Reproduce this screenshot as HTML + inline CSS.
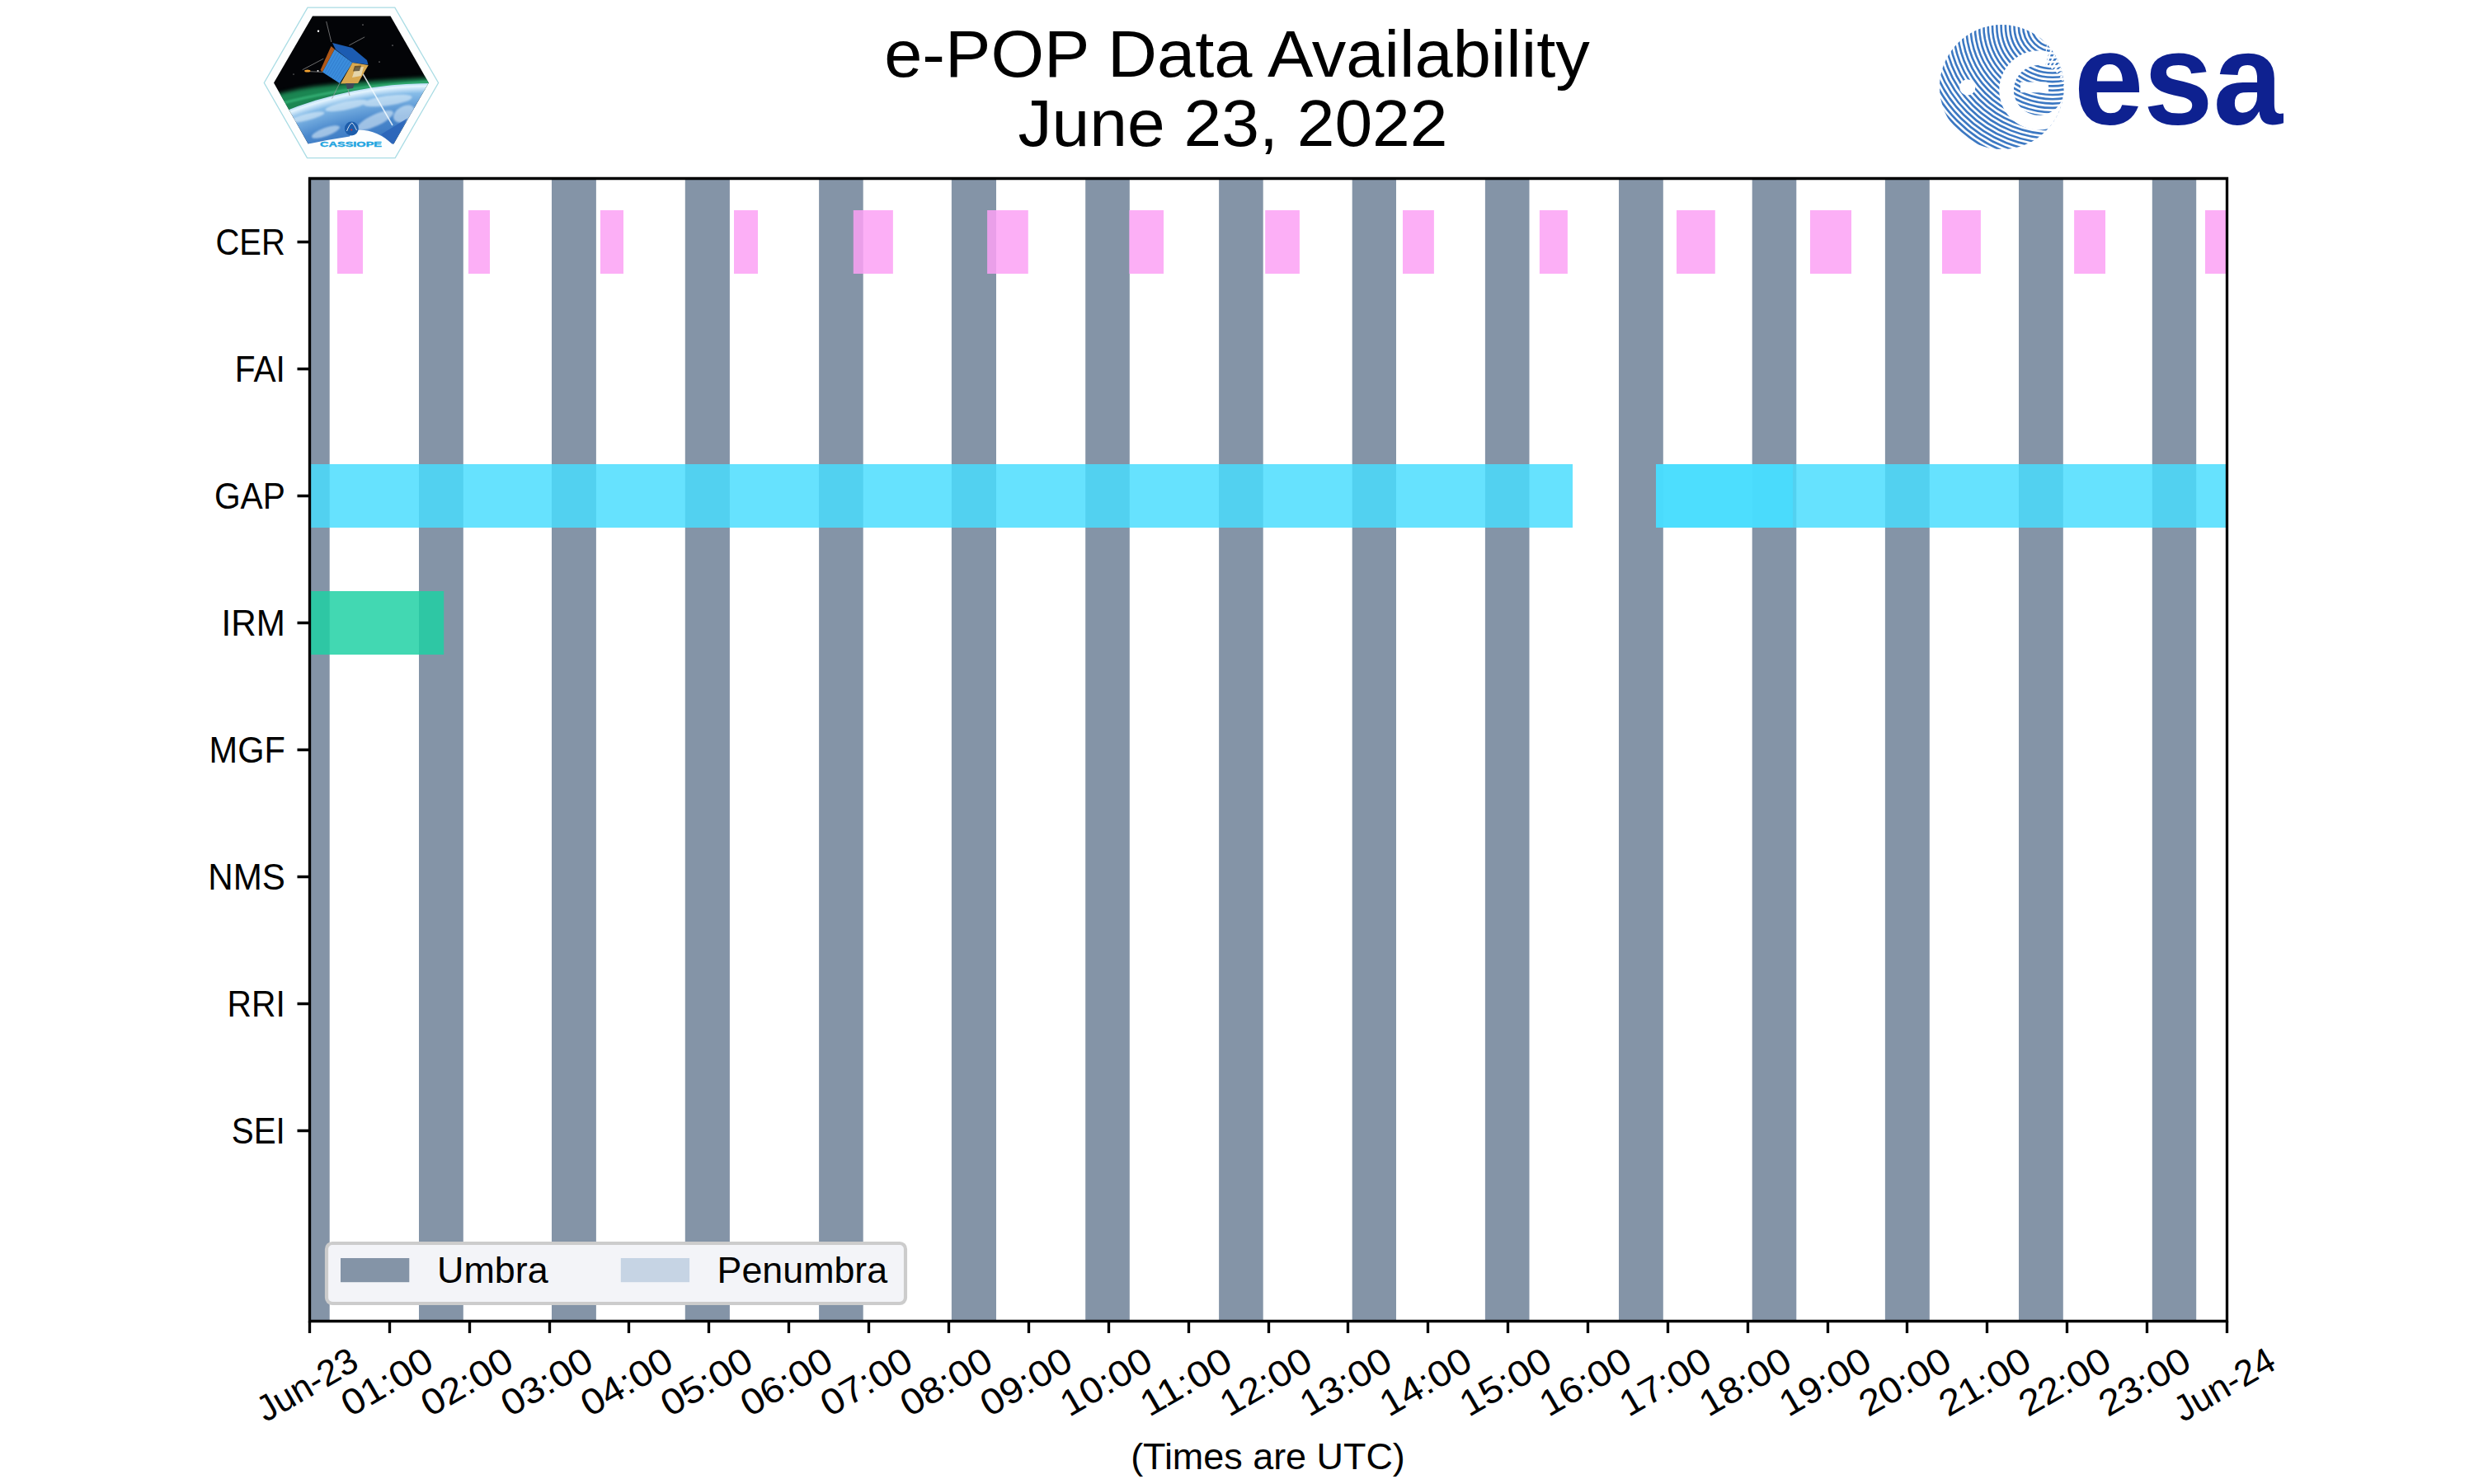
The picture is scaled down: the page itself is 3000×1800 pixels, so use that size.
<!DOCTYPE html>
<html><head><meta charset="utf-8"><style>
html,body{margin:0;padding:0;background:#fff;width:3000px;height:1800px;overflow:hidden}
svg{display:block}
text{font-family:"Liberation Sans", sans-serif}
</style></head><body>
<svg width="3000" height="1800" viewBox="0 0 3000 1800">
<rect width="3000" height="1800" fill="#fff"/>
<rect x="375.0" y="216.5" width="24.7" height="1386" fill="#8494a7"/>
<rect x="508.0" y="216.5" width="53.8" height="1386" fill="#8494a7"/>
<rect x="669.0" y="216.5" width="53.9" height="1386" fill="#8494a7"/>
<rect x="830.8" y="216.5" width="54.1" height="1386" fill="#8494a7"/>
<rect x="993.1" y="216.5" width="53.6" height="1386" fill="#8494a7"/>
<rect x="1153.9" y="216.5" width="54.1" height="1386" fill="#8494a7"/>
<rect x="1316.2" y="216.5" width="53.6" height="1386" fill="#8494a7"/>
<rect x="1478.1" y="216.5" width="53.6" height="1386" fill="#8494a7"/>
<rect x="1639.7" y="216.5" width="53.3" height="1386" fill="#8494a7"/>
<rect x="1800.9" y="216.5" width="53.6" height="1386" fill="#8494a7"/>
<rect x="1963.0" y="216.5" width="53.8" height="1386" fill="#8494a7"/>
<rect x="2124.7" y="216.5" width="53.6" height="1386" fill="#8494a7"/>
<rect x="2285.9" y="216.5" width="53.9" height="1386" fill="#8494a7"/>
<rect x="2448.0" y="216.5" width="53.8" height="1386" fill="#8494a7"/>
<rect x="2609.8" y="216.5" width="53.4" height="1386" fill="#8494a7"/>
<rect x="409.0" y="255" width="31.0" height="77" fill="#fba1f5" fill-opacity="0.85"/>
<rect x="568.0" y="255" width="26.0" height="77" fill="#fba1f5" fill-opacity="0.85"/>
<rect x="728.0" y="255" width="28.0" height="77" fill="#fba1f5" fill-opacity="0.85"/>
<rect x="890.0" y="255" width="29.0" height="77" fill="#fba1f5" fill-opacity="0.85"/>
<rect x="1034.8" y="255" width="48.1" height="77" fill="#fba1f5" fill-opacity="0.85"/>
<rect x="1197.1" y="255" width="49.7" height="77" fill="#fba1f5" fill-opacity="0.85"/>
<rect x="1369.3" y="255" width="41.7" height="77" fill="#fba1f5" fill-opacity="0.85"/>
<rect x="1534.2" y="255" width="41.7" height="77" fill="#fba1f5" fill-opacity="0.85"/>
<rect x="1701.0" y="255" width="37.9" height="77" fill="#fba1f5" fill-opacity="0.85"/>
<rect x="1866.9" y="255" width="34.0" height="77" fill="#fba1f5" fill-opacity="0.85"/>
<rect x="2033.0" y="255" width="46.8" height="77" fill="#fba1f5" fill-opacity="0.85"/>
<rect x="2195.0" y="255" width="50.0" height="77" fill="#fba1f5" fill-opacity="0.85"/>
<rect x="2355.0" y="255" width="46.9" height="77" fill="#fba1f5" fill-opacity="0.85"/>
<rect x="2515.1" y="255" width="37.9" height="77" fill="#fba1f5" fill-opacity="0.85"/>
<rect x="2674.0" y="255" width="26.5" height="77" fill="#fba1f5" fill-opacity="0.85"/>
<rect x="375.5" y="563" width="1531.5" height="77" fill="#49dcfe" fill-opacity="0.84"/>
<rect x="2008.0" y="563" width="692.5" height="77" fill="#49dcfe" fill-opacity="0.84"/>
<rect x="2008.0" y="563" width="166.0" height="77" fill="#49dcfe" fill-opacity="0.84"/>
<rect x="375.5" y="717" width="162.7" height="77" fill="#1ed0a3" fill-opacity="0.84"/>
<rect x="396" y="1508" width="702" height="73" rx="7" ry="7" fill="#f3f4f8" stroke="#cccccc" stroke-width="4.17"/>
<rect x="413" y="1526" width="83.3" height="29.2" fill="#8494a7"/>
<rect x="752.8" y="1526" width="83.3" height="29.2" fill="#c6d4e4"/>
<path d="M375.5 216.5 H2700.5 V1602.5 H375.5 Z" fill="none" stroke="#000" stroke-width="3.333" stroke-linejoin="miter"/>
<path d="M375.5 1602.5 V1617 M472.5 1602.5 V1617 M569.5 1602.5 V1617 M666.5 1602.5 V1617 M762.5 1602.5 V1617 M859.5 1602.5 V1617 M956.5 1602.5 V1617 M1053.5 1602.5 V1617 M1150.5 1602.5 V1617 M1247.5 1602.5 V1617 M1344.5 1602.5 V1617 M1441.5 1602.5 V1617 M1538.5 1602.5 V1617 M1634.5 1602.5 V1617 M1731.5 1602.5 V1617 M1828.5 1602.5 V1617 M1925.5 1602.5 V1617 M2022.5 1602.5 V1617 M2119.5 1602.5 V1617 M2216.5 1602.5 V1617 M2312.5 1602.5 V1617 M2409.5 1602.5 V1617 M2506.5 1602.5 V1617 M2603.5 1602.5 V1617 M2700.5 1602.5 V1617 M375.5 293.5 H360.5 M375.5 447.5 H360.5 M375.5 601.5 H360.5 M375.5 755.5 H360.5 M375.5 909.5 H360.5 M375.5 1063.5 H360.5 M375.5 1217.5 H360.5 M375.5 1371.5 H360.5" stroke="#000" stroke-width="3.333" fill="none"/>
<text x="345.80" y="308.50" font-size="44.15" text-anchor="end" textLength="84.37" lengthAdjust="spacingAndGlyphs" fill="#000">CER</text>
<text x="345.80" y="462.50" font-size="44.15" text-anchor="end" textLength="60.93" lengthAdjust="spacingAndGlyphs" fill="#000">FAI</text>
<text x="345.80" y="616.50" font-size="44.15" text-anchor="end" textLength="85.92" lengthAdjust="spacingAndGlyphs" fill="#000">GAP</text>
<text x="345.80" y="770.50" font-size="44.15" text-anchor="end" textLength="77.19" lengthAdjust="spacingAndGlyphs" fill="#000">IRM</text>
<text x="345.80" y="924.50" font-size="44.15" text-anchor="end" textLength="92.20" lengthAdjust="spacingAndGlyphs" fill="#000">MGF</text>
<text x="345.80" y="1078.50" font-size="44.15" text-anchor="end" textLength="93.57" lengthAdjust="spacingAndGlyphs" fill="#000">NMS</text>
<text x="345.80" y="1232.50" font-size="44.15" text-anchor="end" textLength="70.19" lengthAdjust="spacingAndGlyphs" fill="#000">RRI</text>
<text x="345.80" y="1386.50" font-size="44.15" text-anchor="end" textLength="65.06" lengthAdjust="spacingAndGlyphs" fill="#000">SEI</text>
<text x="1500.00" y="93.30" font-size="79.47" text-anchor="middle" textLength="855.68" lengthAdjust="spacingAndGlyphs" fill="#000">e-POP Data Availability</text>
<text x="1495.00" y="177.00" font-size="79.47" text-anchor="middle" textLength="521.15" lengthAdjust="spacingAndGlyphs" fill="#000">June 23, 2022</text>
<text x="1537.50" y="1781.50" font-size="44.15" text-anchor="middle" textLength="332.66" lengthAdjust="spacingAndGlyphs" fill="#000">(Times are UTC)</text>
<text x="530.00" y="1555.50" font-size="44.15" text-anchor="start" textLength="134.59" lengthAdjust="spacingAndGlyphs" fill="#000">Umbra</text>
<text x="869.50" y="1555.50" font-size="44.15" text-anchor="start" textLength="206.71" lengthAdjust="spacingAndGlyphs" fill="#000">Penumbra</text>
<g transform="translate(373.50,1681.72) rotate(-30)"><text x="0" y="12.50" font-size="44.15" text-anchor="middle" textLength="133.16" lengthAdjust="spacingAndGlyphs">Jun-23</text></g>
<g transform="translate(470.38,1678.45) rotate(-30)"><text x="0" y="12.50" font-size="44.15" text-anchor="middle" textLength="120.08" lengthAdjust="spacingAndGlyphs">01:00</text></g>
<g transform="translate(567.25,1678.45) rotate(-30)"><text x="0" y="12.50" font-size="44.15" text-anchor="middle" textLength="120.08" lengthAdjust="spacingAndGlyphs">02:00</text></g>
<g transform="translate(664.12,1678.45) rotate(-30)"><text x="0" y="12.50" font-size="44.15" text-anchor="middle" textLength="120.08" lengthAdjust="spacingAndGlyphs">03:00</text></g>
<g transform="translate(761.00,1678.45) rotate(-30)"><text x="0" y="12.50" font-size="44.15" text-anchor="middle" textLength="120.08" lengthAdjust="spacingAndGlyphs">04:00</text></g>
<g transform="translate(857.88,1678.45) rotate(-30)"><text x="0" y="12.50" font-size="44.15" text-anchor="middle" textLength="120.08" lengthAdjust="spacingAndGlyphs">05:00</text></g>
<g transform="translate(954.75,1678.45) rotate(-30)"><text x="0" y="12.50" font-size="44.15" text-anchor="middle" textLength="120.08" lengthAdjust="spacingAndGlyphs">06:00</text></g>
<g transform="translate(1051.62,1678.45) rotate(-30)"><text x="0" y="12.50" font-size="44.15" text-anchor="middle" textLength="120.08" lengthAdjust="spacingAndGlyphs">07:00</text></g>
<g transform="translate(1148.50,1678.45) rotate(-30)"><text x="0" y="12.50" font-size="44.15" text-anchor="middle" textLength="120.08" lengthAdjust="spacingAndGlyphs">08:00</text></g>
<g transform="translate(1245.38,1678.45) rotate(-30)"><text x="0" y="12.50" font-size="44.15" text-anchor="middle" textLength="120.08" lengthAdjust="spacingAndGlyphs">09:00</text></g>
<g transform="translate(1342.25,1678.45) rotate(-30)"><text x="0" y="12.50" font-size="44.15" text-anchor="middle" textLength="120.08" lengthAdjust="spacingAndGlyphs">10:00</text></g>
<g transform="translate(1439.12,1678.45) rotate(-30)"><text x="0" y="12.50" font-size="44.15" text-anchor="middle" textLength="120.08" lengthAdjust="spacingAndGlyphs">11:00</text></g>
<g transform="translate(1536.00,1678.45) rotate(-30)"><text x="0" y="12.50" font-size="44.15" text-anchor="middle" textLength="120.08" lengthAdjust="spacingAndGlyphs">12:00</text></g>
<g transform="translate(1632.88,1678.45) rotate(-30)"><text x="0" y="12.50" font-size="44.15" text-anchor="middle" textLength="120.08" lengthAdjust="spacingAndGlyphs">13:00</text></g>
<g transform="translate(1729.75,1678.45) rotate(-30)"><text x="0" y="12.50" font-size="44.15" text-anchor="middle" textLength="120.08" lengthAdjust="spacingAndGlyphs">14:00</text></g>
<g transform="translate(1826.62,1678.45) rotate(-30)"><text x="0" y="12.50" font-size="44.15" text-anchor="middle" textLength="120.08" lengthAdjust="spacingAndGlyphs">15:00</text></g>
<g transform="translate(1923.50,1678.45) rotate(-30)"><text x="0" y="12.50" font-size="44.15" text-anchor="middle" textLength="120.08" lengthAdjust="spacingAndGlyphs">16:00</text></g>
<g transform="translate(2020.38,1678.45) rotate(-30)"><text x="0" y="12.50" font-size="44.15" text-anchor="middle" textLength="120.08" lengthAdjust="spacingAndGlyphs">17:00</text></g>
<g transform="translate(2117.25,1678.45) rotate(-30)"><text x="0" y="12.50" font-size="44.15" text-anchor="middle" textLength="120.08" lengthAdjust="spacingAndGlyphs">18:00</text></g>
<g transform="translate(2214.12,1678.45) rotate(-30)"><text x="0" y="12.50" font-size="44.15" text-anchor="middle" textLength="120.08" lengthAdjust="spacingAndGlyphs">19:00</text></g>
<g transform="translate(2311.00,1678.45) rotate(-30)"><text x="0" y="12.50" font-size="44.15" text-anchor="middle" textLength="120.08" lengthAdjust="spacingAndGlyphs">20:00</text></g>
<g transform="translate(2407.88,1678.45) rotate(-30)"><text x="0" y="12.50" font-size="44.15" text-anchor="middle" textLength="120.08" lengthAdjust="spacingAndGlyphs">21:00</text></g>
<g transform="translate(2504.75,1678.45) rotate(-30)"><text x="0" y="12.50" font-size="44.15" text-anchor="middle" textLength="120.08" lengthAdjust="spacingAndGlyphs">22:00</text></g>
<g transform="translate(2601.62,1678.45) rotate(-30)"><text x="0" y="12.50" font-size="44.15" text-anchor="middle" textLength="120.08" lengthAdjust="spacingAndGlyphs">23:00</text></g>
<g transform="translate(2698.50,1681.72) rotate(-30)"><text x="0" y="12.50" font-size="44.15" text-anchor="middle" textLength="133.16" lengthAdjust="spacingAndGlyphs">Jun-24</text></g>
<defs>
<clipPath id="hexc"><polygon points="379,19.4 473.5,19.4 519.8,100.5 476.8,175.6 374.3,175.6 332,100.5"/></clipPath>
<clipPath id="esac"><circle cx="2427.4" cy="105.6" r="75.5"/></clipPath>
<radialGradient id="earthg" cx="521.6" cy="577" r="476" gradientUnits="userSpaceOnUse">
<stop offset="0.82" stop-color="#2c68b8"/>
<stop offset="0.92" stop-color="#4a88cc"/>
<stop offset="0.975" stop-color="#86bce8"/>
<stop offset="0.993" stop-color="#e4f4fe"/>
<stop offset="1" stop-color="#b8dcf4"/>
</radialGradient>
<radialGradient id="aur" cx="521.6" cy="577" r="500" gradientUnits="userSpaceOnUse">
<stop offset="0.94" stop-color="#0a3a20" stop-opacity="0"/>
<stop offset="0.955" stop-color="#20a060" stop-opacity="0.9"/>
<stop offset="0.975" stop-color="#30d080" stop-opacity="0.7"/>
<stop offset="1" stop-color="#0a3020" stop-opacity="0"/>
</radialGradient>
<filter id="blur1" x="-20%" y="-20%" width="140%" height="140%"><feGaussianBlur stdDeviation="1.2"/></filter>
<filter id="blur2" x="-20%" y="-20%" width="140%" height="140%"><feGaussianBlur stdDeviation="2.5"/></filter>
</defs>
<!-- CASSIOPE logo -->
<polygon points="373,9.2 478.8,9.2 531.6,100.5 479.2,191.6 372.5,191.6 320.3,100.5" fill="#fdfefe" stroke="#a9dce4" stroke-width="1.3"/>
<g clip-path="url(#hexc)">
<rect x="330" y="18" width="192" height="160" fill="#030407"/>
<path d="M325,150 L325,118 Q360,106 400,103 Q460,97 525,94 L525,112 Q450,112 400,122 Q360,130 325,150 Z" fill="#22a866" opacity="0.8" filter="url(#blur2)"/>
<path d="M325,130 Q380,114 450,105 Q490,101 525,99" stroke="#48d090" stroke-width="3" fill="none" opacity="0.55" filter="url(#blur1)"/>
<circle cx="521.6" cy="577" r="476" fill="url(#earthg)"/>
<g fill="#e8f4fc" opacity="0.55" filter="url(#blur1)">
<ellipse cx="372" cy="142" rx="22" ry="4" transform="rotate(-14 372 142)"/>
<ellipse cx="420" cy="128" rx="26" ry="5" transform="rotate(-12 420 128)"/>
<ellipse cx="470" cy="122" rx="30" ry="6" transform="rotate(-8 470 122)"/>
<ellipse cx="395" cy="160" rx="18" ry="5" transform="rotate(-20 395 160)"/>
<ellipse cx="455" cy="146" rx="24" ry="7" transform="rotate(-25 455 146)"/>
<ellipse cx="490" cy="138" rx="14" ry="9" transform="rotate(-30 490 138)"/>
</g>
<path d="M370,178 L374.3,174.6 Q400,169 424,165.5 Q428,158 436,157.5 Q458,158 477,175.5 L480,178 Z" fill="#fdfefe"/>
<polygon points="462,163 494,143.5 476.5,175.5" fill="#2a64b8" opacity="0.85"/>
<g fill="#fff"><circle cx="386" cy="37.7" r="1.2"/><circle cx="385.5" cy="86" r="1"/><circle cx="440" cy="30" r="0.6"/><circle cx="476" cy="55" r="0.6"/><circle cx="460" cy="75" r="0.6"/><circle cx="356" cy="90" r="0.5"/></g>
<g stroke="#9a9a9a" stroke-width="0.7" fill="none">
<path d="M395.7,26 L401.8,51"/><path d="M442.2,44.9 L423.3,55"/><path d="M366.7,84.7 L392.3,71.2"/><path d="M376,86.7 L391,87.4"/><path d="M411.9,100.9 L402.5,119.7"/><path d="M420,101 L424,116"/>
</g>
<path d="M439.5,88.7 L476,152" stroke="#f4fbff" stroke-width="1.6" opacity="0.85"/>
<ellipse cx="372.8" cy="86" rx="3.6" ry="1.5" fill="#f0a030"/>
<polygon points="403,52 427,58 445,73 446.5,78.5 427.4,76 407,60" fill="#1c5cb2"/>
<polygon points="401.5,56 405.8,59.8 391,87.4 388.5,85" fill="#b05818"/>
<polygon points="405.8,59.8 427.4,76 411.9,100.9 391,87.4" fill="#3b8ddc"/>
<g stroke="#2a6ec0" stroke-width="0.5">
<path d="M408.5,61.8 L393.5,89"/><path d="M411.2,63.8 L396,90.6"/><path d="M413.9,65.8 L398.5,92.2"/><path d="M416.6,67.8 L401,93.8"/><path d="M419.3,69.8 L403.5,95.4"/><path d="M422,71.8 L406,97"/><path d="M424.7,73.8 L408.5,98.6"/>
</g>
<polygon points="427.4,76 446.7,79 434.1,100.9 413,101.5" fill="#d8a850"/>
<polygon points="431,82 441,81 438,92 427,94" fill="#e8e0c0" opacity="0.8"/>
<polygon points="430,80 438,79.5 436,86 428,86.5" fill="#3a3020" opacity="0.7"/>
<polygon points="419,101 430,101 428,107 421,108" fill="#404858"/>
<circle cx="426.3" cy="156" r="8.4" fill="#1d5dab"/>
<path d="M420.5,159 Q424,150 427,149 Q430,152 432.5,158" stroke="#fff" stroke-width="0.8" fill="none"/>
<circle cx="426.3" cy="157.5" r="1" fill="#e03030"/>
</g>
<rect x="370" y="174.7" width="112" height="6" fill="#fdfefe"/>
<text x="388" y="178.3" font-size="8.6" font-weight="bold" fill="#1ea4e0" stroke="#1ea4e0" stroke-width="0.35" textLength="75" lengthAdjust="spacingAndGlyphs" style="font-family:'Liberation Sans',sans-serif">CASSIOPE</text>
<!-- ESA logo -->
<g clip-path="url(#esac)">
<g fill="none" stroke="#3c78c2" stroke-width="2.6">
<circle cx="2488.9" cy="31.5" r="4.00"/>
<circle cx="2488.9" cy="31.5" r="9.30"/>
<circle cx="2488.9" cy="31.5" r="14.60"/>
<circle cx="2488.9" cy="31.5" r="19.90"/>
<circle cx="2488.9" cy="31.5" r="25.20"/>
<circle cx="2488.9" cy="31.5" r="30.50"/>
<circle cx="2488.9" cy="31.5" r="35.80"/>
<circle cx="2488.9" cy="31.5" r="41.10"/>
<circle cx="2488.9" cy="31.5" r="46.40"/>
<circle cx="2488.9" cy="31.5" r="51.70"/>
<circle cx="2488.9" cy="31.5" r="57.00"/>
<circle cx="2488.9" cy="31.5" r="62.30"/>
<circle cx="2488.9" cy="31.5" r="67.60"/>
<circle cx="2488.9" cy="31.5" r="72.90"/>
<circle cx="2488.9" cy="31.5" r="78.20"/>
<circle cx="2488.9" cy="31.5" r="83.50"/>
<circle cx="2488.9" cy="31.5" r="88.80"/>
<circle cx="2488.9" cy="31.5" r="94.10"/>
<circle cx="2488.9" cy="31.5" r="99.40"/>
<circle cx="2488.9" cy="31.5" r="104.70"/>
<circle cx="2488.9" cy="31.5" r="110.00"/>
<circle cx="2488.9" cy="31.5" r="115.30"/>
<circle cx="2488.9" cy="31.5" r="120.60"/>
<circle cx="2488.9" cy="31.5" r="125.90"/>
<circle cx="2488.9" cy="31.5" r="131.20"/>
<circle cx="2488.9" cy="31.5" r="136.50"/>
<circle cx="2488.9" cy="31.5" r="141.80"/>
<circle cx="2488.9" cy="31.5" r="147.10"/>
<circle cx="2488.9" cy="31.5" r="152.40"/>
<circle cx="2488.9" cy="31.5" r="157.70"/>
<circle cx="2488.9" cy="31.5" r="163.00"/>
<circle cx="2488.9" cy="31.5" r="168.30"/>
<circle cx="2488.9" cy="31.5" r="173.60"/>
<circle cx="2488.9" cy="31.5" r="178.90"/>
<circle cx="2488.9" cy="31.5" r="184.20"/>
<circle cx="2488.9" cy="31.5" r="189.50"/>
<circle cx="2488.9" cy="31.5" r="194.80"/>
</g>
<defs><clipPath id="urc"><path d="M2486.19,30.62 A80,80 0 0 1 2551.08,123.29 L2502.24,114.68 A30.4,30.4 0 0 0 2477.58,79.46 Z"/></clipPath></defs>
<path d="M2519.57,117.74 A48.0,48.0 0 1 1 2484.72,63.04 L2480.17,80.04 A30.4,30.4 0 1 0 2502.24,114.68 Z" fill="#fff"/>
<g clip-path="url(#urc)"><path d="M2472.3,109.4 L2487.93,20.77 M2472.3,109.4 L2498.61,23.33 M2472.3,109.4 L2508.91,27.18 M2472.3,109.4 L2518.65,32.25 M2472.3,109.4 L2527.71,38.48 M2472.3,109.4 L2535.94,45.76 M2472.3,109.4 L2543.22,53.99 M2472.3,109.4 L2549.45,63.05 M2472.3,109.4 L2554.52,72.79 M2472.3,109.4 L2558.37,83.09 M2472.3,109.4 L2560.93,93.77 M2472.3,109.4 L2562.18,104.69 M2472.3,109.4 L2562.08,115.68 M2472.3,109.4 L2560.65,126.57" stroke="#fff" stroke-width="2.2" fill="none"/></g>
<path d="M2450,99.5 H2481 Q2484,99.5 2484,103 V112.3 H2450 Z" fill="#fff"/>
<circle cx="2385.8" cy="105.9" r="9.6" fill="#fff"/>
</g>
<g fill="#0e2190"><text x="2515" y="150" font-size="160" font-weight="bold" textLength="253" lengthAdjust="spacingAndGlyphs" style="font-family:'Liberation Sans',sans-serif">esa</text></g>

</svg>
</body></html>
